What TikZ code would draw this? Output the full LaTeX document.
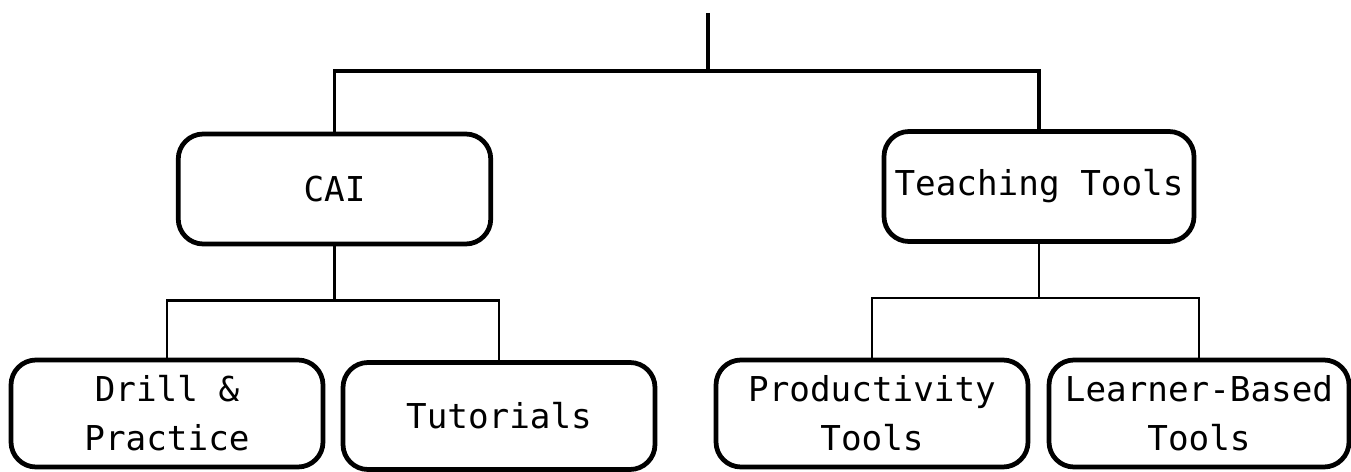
\documentclass[tikz,border=0pt]{standalone}
\usepackage{fontspec}
\setmonofont{DejaVu Sans Mono}
\usepackage{tikz}

\begin{document}
\begin{tikzpicture}
[catg/.style={rectangle,rounded corners=0.5cm,draw=black,line width=2.7pt,align=center,
  minimum width=6.25cm,minimum height=2.2cm,font=\ttfamily\fontsize{19.5}{28}\selectfont},
leaf/.style={catg,minimum width=6.24cm,minimum height=2.14cm},
link/.style={draw=black,line width=1.5pt}]

\useasboundingbox (0,0) rectangle (27.02,-9.44);

\coordinate (top) at (14.16,-0.26);
\coordinate (bus) at (14.16,-1.42);
\node at (6.69,-3.78)  [catg] (cai)   {CAI};
\node at (20.78,-3.73) [catg,minimum width=6.2cm] (teach) {Teaching Tools};

\node at (3.34,-8.27)  [leaf] (drill) {Drill \&\\Practice};
\node at (9.98,-8.32)  [leaf] (tutor) {Tutorials};
\node at (17.44,-8.27) [leaf] (prod)  {Productivity\\Tools};
\node at (23.98,-8.27) [leaf,minimum width=6.0cm] (learn) {Learner-Based\\Tools};

\draw [link,line width=2pt] (top) -- (bus);
\draw [link,line width=2pt] (bus) -| (cai.north);
\draw [link,line width=2pt] (bus) -| (teach.north);
\draw [link] (cai.south) -- ++(0,-1.08) coordinate (caibus);
\draw [link] (caibus) -| (drill.north);
\draw [link] (caibus) -| (tutor.north);
\draw [link] (teach.south) -- ++(0,-1.08) coordinate (teachbus);
\draw [link] (teachbus) -| (prod.north);
\draw [link] (teachbus) -| (learn.north);
\end{tikzpicture}
\end{document}
